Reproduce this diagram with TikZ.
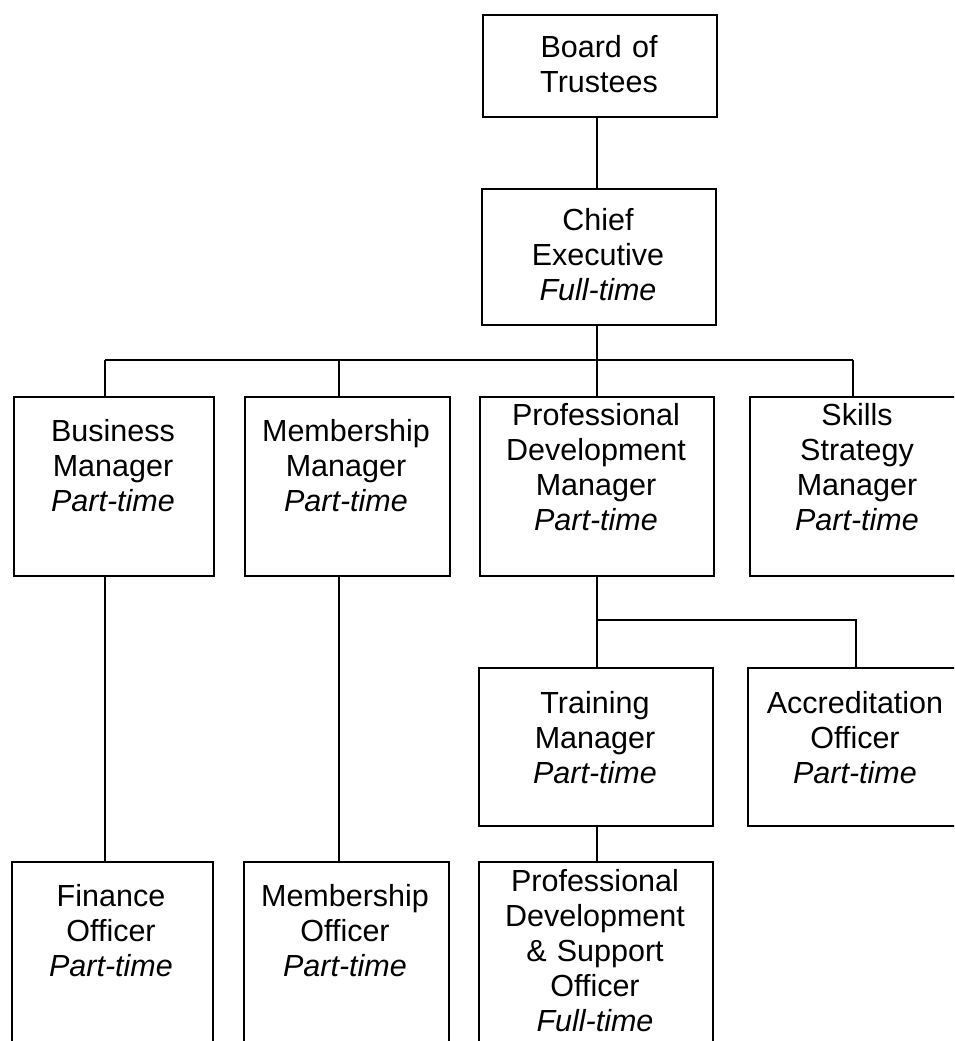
\documentclass[tikz,border=0pt]{standalone}
\usepackage{fontspec}
\setmainfont{Liberation Sans}
\tikzset{
  orgbox/.style={draw, line width=1.7pt, inner sep=0pt, anchor=north west},
  lbl/.style={align=center, anchor=base, inner sep=0pt, text width=240pt,
              font=\fontsize{30.5}{35}\selectfont},
  conn/.style={line width=1.5pt},
}
\newcommand\obox[5]{%
  \node[orgbox, minimum width={(#4-#2)*1pt}, minimum height={(#5-#3)*1pt}] (#1) at (#2,#3) {};}
\begin{document}
\begin{tikzpicture}[x=1pt,y=-1pt]
\useasboundingbox (0,0) rectangle (954,1041);
\clip (0,0) rectangle (954,1041);
% boxes
\obox{bot}{482}{14}{716}{116}
\obox{ce}{481}{188}{715}{324}
\obox{bm}{13}{396}{213}{575}
\obox{mm}{244}{396}{449}{575}
\obox{pdm}{479}{396}{713}{575}
\obox{ssm}{749}{396}{965}{575}
\obox{tm}{478}{667}{712}{825}
\obox{ao}{747}{667}{963}{825}
\obox{fo}{11}{861}{212}{1080}
\obox{mo}{243}{861}{448}{1080}
\obox{pdso}{478}{861}{712}{1080}
% labels
\node[lbl] at (599,58) {Board of\\Trustees};
\node[lbl] at (598,230) {Chief\\Executive\\\textit{Full-time}};
\node[lbl] at (113,441) {Business\\Manager\\\textit{Part-time}};
\node[lbl] at (346,441) {Membership\\Manager\\\textit{Part-time}};
\node[lbl] at (596,425) {Professional\\Development\\Manager\\\textit{Part-time}};
\node[lbl] at (857,425) {Skills\\Strategy\\Manager\\\textit{Part-time}};
\node[lbl] at (595,713) {Training\\Manager\\\textit{Part-time}};
\node[lbl] at (855,713) {Accreditation\\Officer\\\textit{Part-time}};
\node[lbl] at (111,906) {Finance\\Officer\\\textit{Part-time}};
\node[lbl] at (345,906) {Membership\\Officer\\\textit{Part-time}};
\node[lbl] at (595,891) {Professional\\Development\\\&~Support\\Officer\\\textit{Full-time}};
% connector guides
\coordinate (bus) at (0,360);
\coordinate (pdbus) at (0,620);
\coordinate (xa) at (105,0);
\coordinate (xm) at (339,0);
\coordinate (xp) at (597,0);
\coordinate (xs) at (853,0);
\coordinate (xacc) at (856,0);
% connectors
\draw[conn] (xp |- bot.south) -- (xp |- ce.north);
\draw[conn] (xp |- ce.south) -- (xp |- bus);
\draw[conn] (xa |- bus) -- (xs |- bus);
\draw[conn] (xa |- bus) -- (xa |- bm.north);
\draw[conn] (xm |- bus) -- (xm |- mm.north);
\draw[conn] (xp |- bus) -- (xp |- pdm.north);
\draw[conn] (xs |- bus) -- (xs |- ssm.north);
\draw[conn] (xp |- pdm.south) -- (xp |- tm.north);
\draw[conn] (xp |- pdbus) -- (xacc |- pdbus) -- (xacc |- ao.north);
\draw[conn] (xp |- tm.south) -- (xp |- pdso.north);
\draw[conn] (xa |- bm.south) -- (xa |- fo.north);
\draw[conn] (xm |- mm.south) -- (xm |- mo.north);
\end{tikzpicture}
\end{document}
